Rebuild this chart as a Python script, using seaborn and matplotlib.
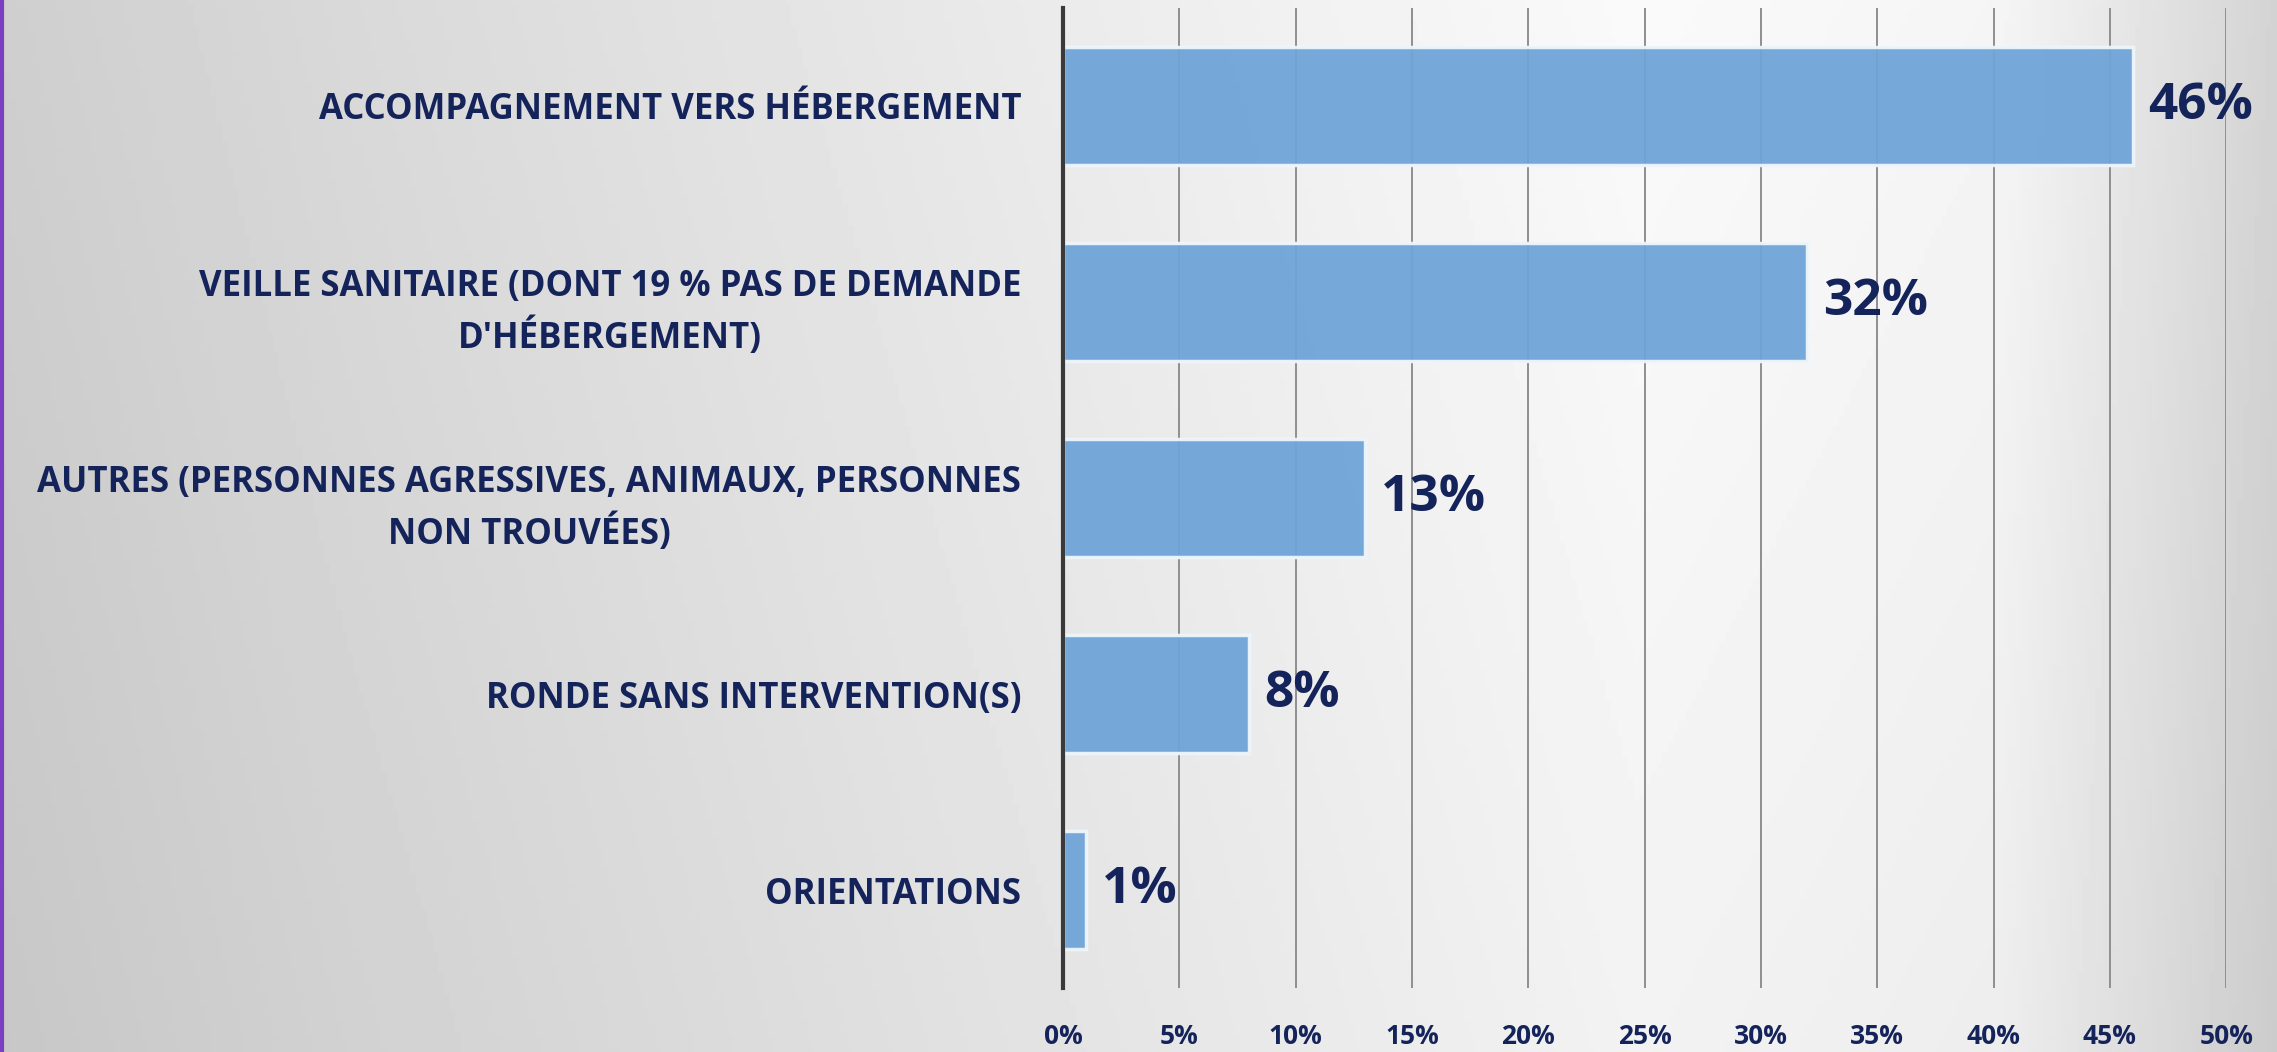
import numpy as np
import pandas as pd
import matplotlib
matplotlib.use("Agg")
import matplotlib.pyplot as plt
import seaborn as sns

categories = [
    "ACCOMPAGNEMENT VERS HÉBERGEMENT",
    "VEILLE SANITAIRE (DONT 19 % PAS DE DEMANDE\nD'HÉBERGEMENT)",
    "AUTRES (PERSONNES AGRESSIVES, ANIMAUX, PERSONNES\nNON TROUVÉES)",
    "RONDE SANS INTERVENTION(S)",
    "ORIENTATIONS",
]
values = [46, 32, 13, 8, 1]
value_labels = ["46%", "32%", "13%", "8%", "1%"]
tick_values = [0, 5, 10, 15, 20, 25, 30, 35, 40, 45, 50]
tick_labels = ["0%", "5%", "10%", "15%", "20%", "25%", "30%", "35%", "40%", "45%", "50%"]

sns.set_style("white")
FONTS = ["Open Sans", "DejaVu Sans"]
plt.rcParams["font.family"] = FONTS

NAVY = "#14245a"
BAR = "#6fa4d8"

fig = plt.figure(figsize=(22.77, 10.52), dpi=100)

# background gradient
bg = fig.add_axes([0, 0, 1, 1], zorder=-10)
bg.set_axis_off()
W, H = 400, 200
xx = np.linspace(0, 1, W)
yy = np.linspace(0, 1, H)
X, Y = np.meshgrid(xx, yy)
horiz = np.interp(X, [0, 0.15, 0.72, 0.88, 1.0], [0.78, 0.82, 0.95, 0.93, 0.80])
vert = 0.03 * (1 - Y)
Z = horiz + vert
bg.imshow(Z, cmap="gray", vmin=0, vmax=1, aspect="auto", extent=[0, 1, 0, 1], origin="upper")
bg.set_xlim(0, 1)
bg.set_ylim(0, 1)
bg.axvline(0.0008, color="#7b3fc2", lw=3)

ax = fig.add_axes([0.4668, 0.0608, 0.5109, 0.9316])
ax.patch.set_alpha(0)

df = pd.DataFrame({"cat": categories, "val": values})
sns.barplot(data=df, x="val", y="cat", orient="h", color=BAR, saturation=1,
            width=0.6, edgecolor="#eef6fb", linewidth=2.5, alpha=0.95, ax=ax, zorder=3)

ax.set_xlim(0, 50)
ax.set_ylim(4.5, -0.5)
ax.set_xticks(tick_values)
ax.set_xticklabels(tick_labels)
ax.set_xlabel("")
ax.set_ylabel("")

ax.grid(axis="x", color="#8f8f8f", lw=1.4, zorder=0)
ax.set_axisbelow(True)
for s in ["top", "right", "bottom"]:
    ax.spines[s].set_visible(False)
ax.spines["left"].set_color("#3a3a3a")
ax.spines["left"].set_linewidth(3)
ax.spines["left"].set_zorder(5)

ax.tick_params(axis="x", length=0, pad=25, labelsize=19, labelcolor=NAVY)
ax.tick_params(axis="y", length=0, pad=30, labelsize=25, labelcolor=NAVY)
for t in ax.get_xticklabels():
    t.set_fontweight("bold")
for t in ax.get_yticklabels():
    t.set_fontweight("bold")
    t.set_multialignment("center")
    t.set_linespacing(1.45)

for i, (v, lab) in enumerate(zip(values, value_labels)):
    ax.annotate(lab, xy=(v, i), xytext=(11, 0), textcoords="offset points",
                ha="left", va="center", fontsize=37, fontweight="bold", color=NAVY)

fig.savefig("out.png", dpi=100)
